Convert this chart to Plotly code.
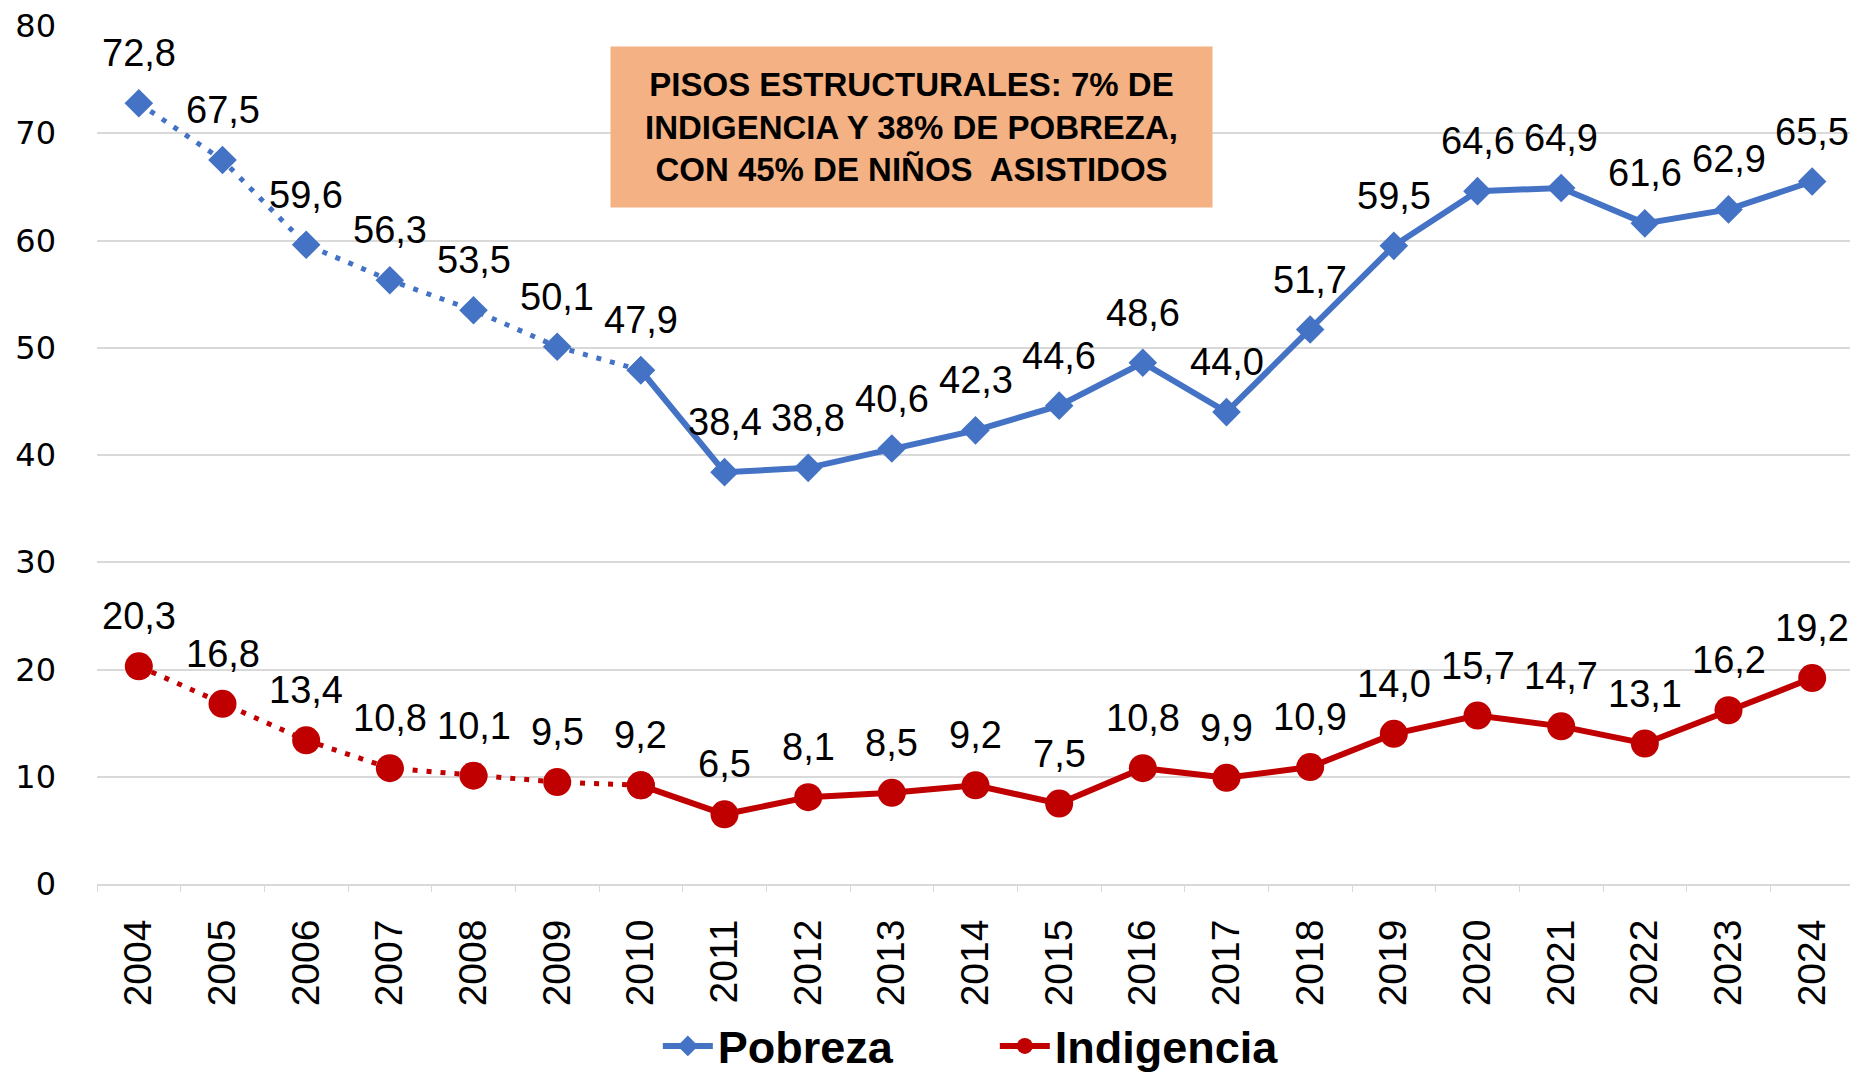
import plotly.graph_objects as go

years = [str(y) for y in range(2004, 2025)]
pobreza = [72.8, 67.5, 59.6, 56.3, 53.5, 50.1, 47.9, 38.4, 38.8, 40.6, 42.3,
           44.6, 48.6, 44.0, 51.7, 59.5, 64.6, 64.9, 61.6, 62.9, 65.5]
indigencia = [20.3, 16.8, 13.4, 10.8, 10.1, 9.5, 9.2, 6.5, 8.1, 8.5, 9.2,
              7.5, 10.8, 9.9, 10.9, 14.0, 15.7, 14.7, 13.1, 16.2, 19.2]
y_ticks = [0, 10, 20, 30, 40, 50, 60, 70, 80]
split = 6  # index of 2010: dotted before, solid after
box_lines = ["PISOS ESTRUCTURALES: 7% DE",
             "INDIGENCIA Y 38% DE POBREZA,",
             "CON 45% DE NIÑOS\u00a0 ASISTIDOS"]

BLUE = "#4472C4"
RED = "#C00000"
SANS = "Liberation Sans, Arial, sans-serif"
LBL_FONT = dict(family=SANS, size=38, color="black")

fig = go.Figure()

series = [("Pobreza", pobreza, BLUE, "diamond", 22),
          ("Indigencia", indigencia, RED, "circle", 28)]

for name, vals, col, sym, msize in series:
    fig.add_trace(go.Scatter(
        x=years[:split + 1], y=vals[:split + 1], mode="lines+markers",
        line=dict(color=col, width=5, dash="5px,9px"),
        marker=dict(symbol=sym, size=msize, color=col),
        showlegend=False, hoverinfo="skip"))
    fig.add_trace(go.Scatter(
        x=years[split:], y=vals[split:], mode="lines+markers", name=name,
        line=dict(color=col, width=6),
        marker=dict(symbol=sym, size=msize, color=col)))
    for i, v in enumerate(vals):
        fig.add_annotation(x=i, y=v, yshift=50, text=f"{v:.1f}".replace(".", ","),
                           showarrow=False, font=LBL_FONT, xanchor="center",
                           yanchor="middle")

fig.add_annotation(
    xref="paper", yref="paper", x=0.4636, y=0.882, xanchor="center", yanchor="middle",
    text="<br>".join(box_lines), showarrow=False, align="center",
    bgcolor="#F4B183", width=601, height=160, borderpad=0,
    font=dict(family=SANS, size=33, color="black", weight="bold"))

fig.update_layout(
    width=1850, height=1090,
    margin=dict(l=89, r=4, t=18, b=214, autoexpand=False),
    paper_bgcolor="white", plot_bgcolor="white",
    showlegend=True,
    legend=dict(orientation="h", x=0.511, xanchor="center", y=-0.189, yanchor="middle",
                font=dict(family=SANS, size=45, color="black", weight="bold"),
                itemwidth=50, entrywidth=272),
    xaxis=dict(type="category", range=[-0.5, 20.5], showgrid=False, automargin=False,
               showline=True, linecolor="#D9D9D9", linewidth=2,
               ticks="outside", tickson="boundaries", ticklen=6, tickcolor="#D9D9D9",
               tickangle=-90, ticklabelstandoff=18,
               tickfont=dict(family=SANS, size=39, color="black")),
    yaxis=dict(range=[0, 80], tickvals=y_ticks, showgrid=True, gridcolor="#D9D9D9",
               gridwidth=2, zeroline=False, showline=False, ticks="", automargin=False,
               ticklabelstandoff=40, ticklabeloverflow="allow",
               tickfont=dict(family="DejaVu Sans, sans-serif", size=32, color="black")),
)

fig.write_html("out.html")
